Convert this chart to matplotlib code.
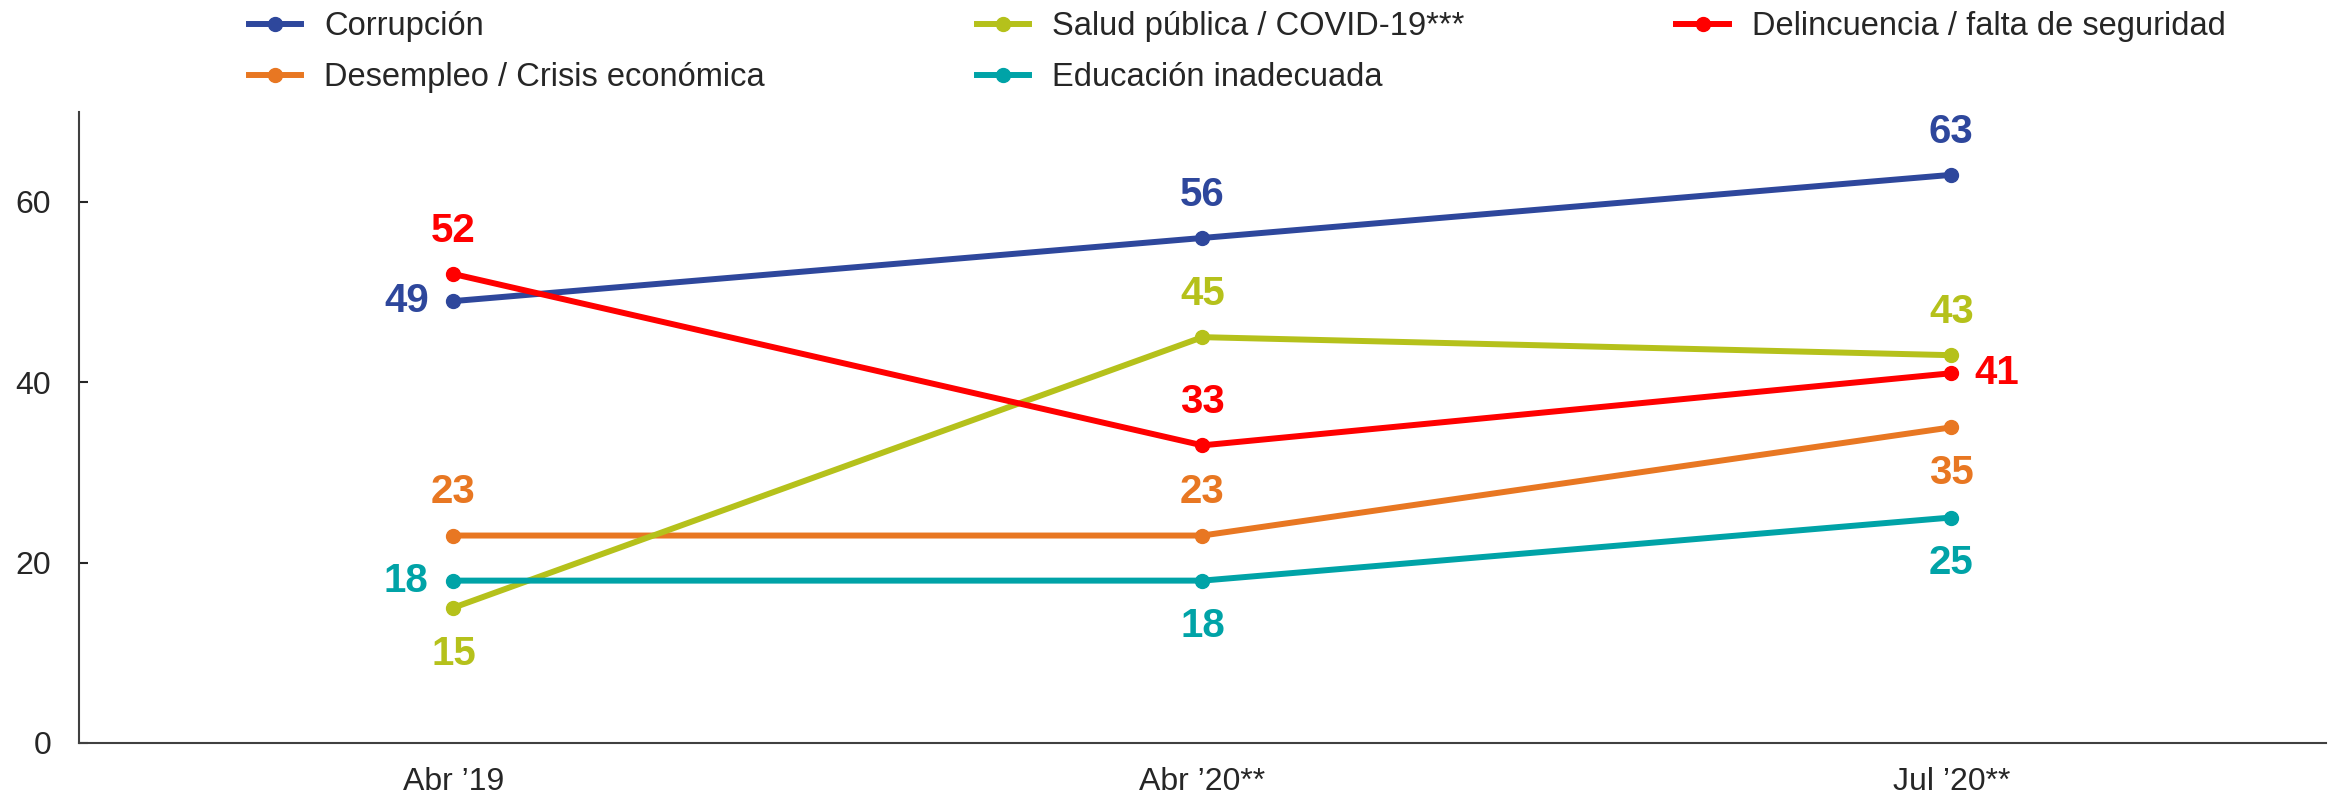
import matplotlib
matplotlib.use("Agg")
import matplotlib.pyplot as plt

plt.rcParams['font.family'] = ['Liberation Sans', 'DejaVu Sans']

# data
periods = ["Abr \u201919", "Abr \u201920**", "Jul \u201920**"]
corrupcion = [49, 56, 63]
salud = [15, 45, 43]
delincuencia = [52, 33, 41]
desempleo = [23, 23, 35]
educacion = [18, 18, 25]

series = [
    ("Corrupci\u00f3n", corrupcion, "#2E479C", ["left", "above", "above"]),
    ("Desempleo / Crisis econ\u00f3mica", desempleo, "#E87722", ["above", "above", "below"]),
    ("Salud p\u00fablica / COVID-19***", salud, "#B5C11B", ["below", "above", "above"]),
    ("Educaci\u00f3n inadecuada", educacion, "#00A3A7", ["left", "below", "below"]),
    ("Delincuencia / falta de seguridad", delincuencia, "#FF0000", ["above", "above", "right"]),
]

offsets = {"above": (0, 31), "below": (0, -33), "left": (-34, 0), "right": (33, 0)}

fig = plt.figure(figsize=(23.38, 7.98), dpi=100)
ax = fig.add_axes([0.0338, 0.069, 0.961, 0.791])

x = list(range(len(periods)))
for name, vals, color, pos in series:
    ax.plot(x, vals, color=color, lw=4.3, marker="o", markersize=10, label=name, zorder=3)
    for xi, v, p in zip(x, vals, pos):
        ax.annotate(str(v), (xi, v), xytext=offsets[p], textcoords="offset points",
                    ha="center", va="center", fontsize=29, fontweight="bold", color=color)

ax.set_xlim(-0.5, 2.5)
ax.set_ylim(0, 70)
ax.set_yticks([0, 20, 40, 60])
ax.set_xticks(x)
ax.set_xticklabels(periods)
ax.tick_params(axis="y", direction="in", length=6.5, width=1.5, labelsize=23, colors="#262626", pad=20)
ax.tick_params(axis="x", length=0, labelsize=23, colors="#262626", pad=17)
for s in ["top", "right"]:
    ax.spines[s].set_visible(False)
for s in ["left", "bottom"]:
    ax.spines[s].set_color("#404040")
    ax.spines[s].set_linewidth(1.5)

fig.legend(loc="upper left", bbox_to_anchor=(0.1065, 0.986), ncol=3, frameon=False,
           fontsize=23.5, handlelength=1.6, handletextpad=0.7, columnspacing=6.5,
           labelspacing=0.62, borderpad=0, borderaxespad=0, labelcolor="#262626")

fig.savefig("out.png", dpi=100)
